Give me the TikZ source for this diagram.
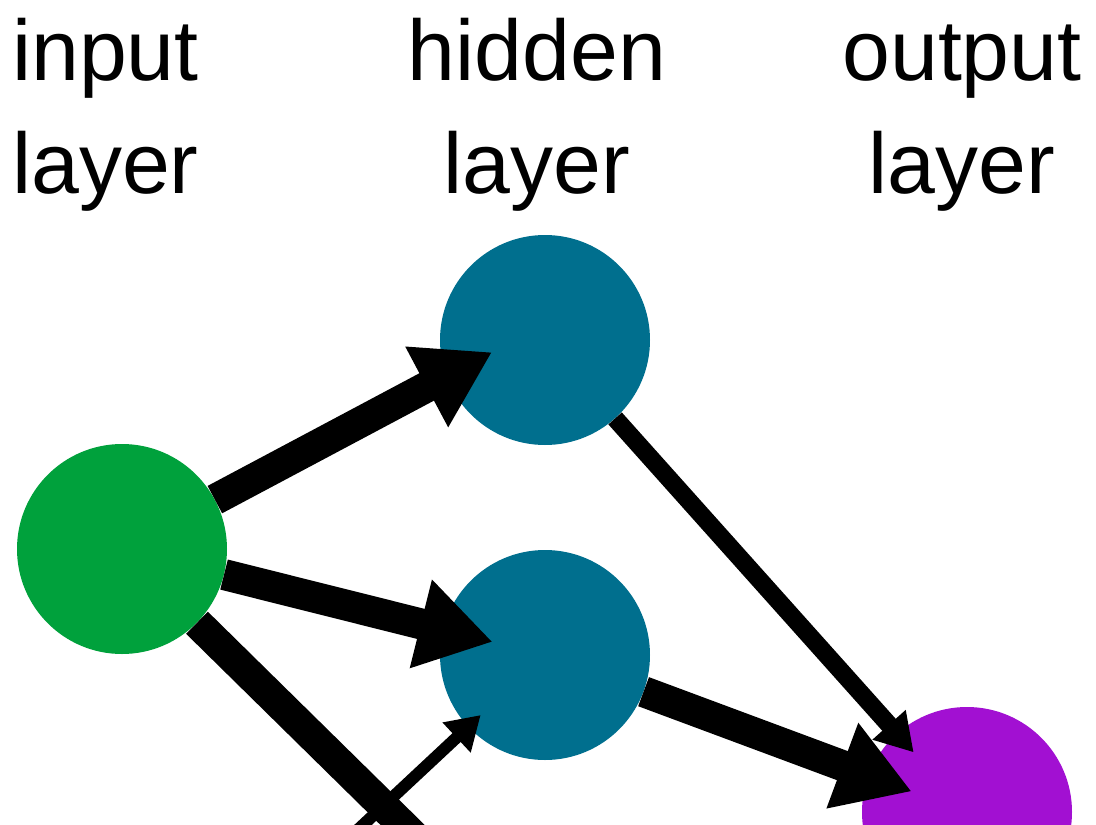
\documentclass[tikz,border=0pt]{standalone}
\usepackage{fontspec}
\setmainfont{Liberation Sans}
\usetikzlibrary{arrows.meta,calc}
\definecolor{ingreen}{RGB}{0,161,60}
\definecolor{hidteal}{RGB}{0,111,142}
\definecolor{outpurple}{RGB}{162,16,210}
\tikzset{
  neuron/.style={circle, minimum size=210pt, inner sep=0pt, draw=none},
  lbl/.style={inner sep=0pt, font=\fontsize{86}{100}\selectfont},
  thickarrow/.style={line width=31pt, -{Triangle[length=74pt,width=86pt]}},
  midarrow/.style={line width=18pt, -{Triangle[length=37pt,width=42pt]}},
  thinarrow/.style={line width=12pt, -{Triangle[length=33pt,width=39pt]}}
}
\begin{document}
\begin{tikzpicture}[x=1pt,y=-1pt]
\clip (0,0) rectangle (1096,825);
\fill[white] (0,0) rectangle (1096,825);
% labels
\node[lbl, anchor=base west] (t1a) at (12,80) {input};
\node[lbl, anchor=base west] (t1b) at (12,193) {layer};
\node[lbl, anchor=base] (t2a) at (537,80) {hidden};
\node[lbl, anchor=base] (t2b) at (537,193) {layer};
\node[lbl, anchor=base] (t3a) at (962,80) {output};
\node[lbl, anchor=base] (t3b) at (962,193) {layer};
% neurons
\node[neuron, fill=ingreen] (g) at (122,549) {};
\node[neuron, fill=hidteal] (h1) at (545,340) {};
\node[neuron, fill=hidteal] (h2) at (545,655) {};
\node[neuron, fill=outpurple] (o) at (967,812) {};
% off-picture ends
\coordinate (h1aim) at ($(h1.center)+(0,-16)$);
\coordinate (h3) at (545,965);
\coordinate (i2) at (122,1050);
% connectors
\draw[thickarrow, shorten >=60pt] (g) -- (h1aim);
\draw[thickarrow, shorten >=54pt] (g) -- (h2.center);
\draw[thickarrow, shorten >=54pt] (g) -- (h3);
\draw[thinarrow, shorten >=88pt] (i2) -- (h2.center);
\draw[midarrow, shorten >=80pt] (h1) -- (o.center);
\draw[thickarrow, shorten >=59pt] (h2) -- (o.center);
\end{tikzpicture}
\end{document}
